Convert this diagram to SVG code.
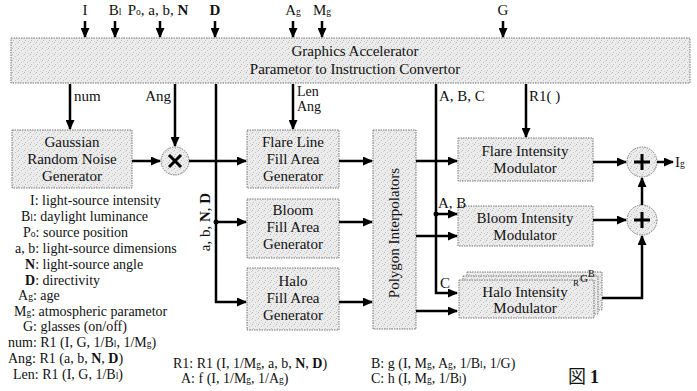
<svg xmlns="http://www.w3.org/2000/svg" width="697" height="391" viewBox="0 0 697 391">
<style>
text{font-family:"Liberation Serif","Times New Roman",serif;font-size:15px;fill:#111}
.s{font-size:14px}
.b{font-weight:bold}
.sub{font-size:9.5px}
.box{fill:url(#stip);stroke:#777;stroke-width:1;stroke-dasharray:1.5 1}
.c{fill:none;stroke:#000;stroke-width:2.5}
.a{marker-end:url(#ah)}
.sym{stroke:#000;stroke-width:3;fill:none}
</style>
<defs>
<pattern id="stip" width="6" height="6" patternUnits="userSpaceOnUse">
<rect width="6" height="6" fill="#ececec"/>
<rect x="0" y="0" width="1" height="1" fill="#b8b8b8"/>
<rect x="3" y="2" width="1" height="1" fill="#c4c4c4"/>
<rect x="1" y="4" width="1" height="1" fill="#bdbdbd"/>
<rect x="4" y="5" width="1" height="1" fill="#cfcfcf"/>
<rect x="5" y="1" width="1" height="1" fill="#d2d2d2"/>
</pattern>
<marker id="ah" markerWidth="10" markerHeight="9" refX="9" refY="4.5" orient="auto" markerUnits="userSpaceOnUse">
<path d="M0,0 L10,4.5 L0,9 z" fill="#000"/>
</marker>
</defs>

<g id="inputs">
<text x="85" y="15" text-anchor="middle">I</text>
<text x="115" y="15" text-anchor="middle">B<tspan class="sub">l</tspan></text>
<text x="158" y="15" text-anchor="middle">P<tspan class="sub">o</tspan>, a, b, <tspan class="b">N</tspan></text>
<text x="215" y="15" text-anchor="middle" class="b">D</text>
<text x="293" y="15" text-anchor="middle">A<tspan class="sub">g</tspan></text>
<text x="322" y="15" text-anchor="middle">M<tspan class="sub">g</tspan></text>
<text x="503" y="15" text-anchor="middle">G</text>
</g>

<g id="accelerator">
<rect class="box" x="11" y="38" width="679" height="45"/>
<text x="355" y="56" text-anchor="middle">Graphics Accelerator</text>
<text x="355" y="74" text-anchor="middle">Parametor to Instruction Convertor</text>
</g>

<g id="gaussian">
<rect class="box" x="12" y="130" width="120" height="58"/>
<text x="72" y="147" text-anchor="middle">Gaussian</text>
<text x="72" y="164" text-anchor="middle">Random Noise</text>
<text x="72" y="181" text-anchor="middle">Generator</text>
</g>

<g id="multiplier">
<circle cx="175" cy="161" r="14" fill="url(#stip)" stroke="#777" stroke-dasharray="1.5 1"/>
<path class="sym" d="M169,155 L181,167 M181,155 L169,167"/>
</g>

<g id="flare-gen">
<rect class="box" x="247" y="130" width="92" height="58"/>
<text x="293" y="147" text-anchor="middle">Flare Line</text>
<text x="293" y="164" text-anchor="middle">Fill Area</text>
<text x="293" y="181" text-anchor="middle">Generator</text>
</g>

<g id="bloom-gen">
<rect class="box" x="247" y="199" width="92" height="59"/>
<text x="293" y="215" text-anchor="middle">Bloom</text>
<text x="293" y="232" text-anchor="middle">Fill Area</text>
<text x="293" y="249" text-anchor="middle">Generator</text>
</g>

<g id="halo-gen">
<rect class="box" x="247" y="268" width="92" height="62"/>
<text x="293" y="286" text-anchor="middle">Halo</text>
<text x="293" y="303" text-anchor="middle">Fill Area</text>
<text x="293" y="320" text-anchor="middle">Generator</text>
</g>

<g id="polygon">
<rect class="box" x="373" y="130" width="43" height="199"/>
<text transform="translate(399,233) rotate(-90)" text-anchor="middle">Polygon Interpolators</text>
</g>

<g id="flare-mod">
<rect class="box" x="458" y="138" width="135" height="43"/>
<text x="525" y="156" text-anchor="middle">Flare Intensity</text>
<text x="525" y="173" text-anchor="middle">Modulator</text>
</g>

<g id="bloom-mod">
<rect class="box" x="458" y="206" width="135" height="40"/>
<text x="525" y="223" text-anchor="middle">Bloom Intensity</text>
<text x="525" y="240" text-anchor="middle">Modulator</text>
</g>

<g id="halo-mod">
<rect class="box" x="467" y="272" width="135" height="38"/>
<rect class="box" x="463" y="276" width="135" height="38"/>
<rect class="box" x="459" y="280" width="135" height="38"/>
<text x="525" y="297" text-anchor="middle">Halo Intensity</text>
<text x="525" y="313" text-anchor="middle">Modulator</text>
<text x="573" y="286" style="font-size:9px">R</text>
<text x="580" y="282" style="font-size:11px">G</text>
<text x="588" y="277" style="font-size:10px">B</text>
</g>

<g id="adder1">
<circle cx="642" cy="162" r="15" fill="url(#stip)" stroke="#777" stroke-dasharray="1.5 1"/>
<path class="sym" d="M642,154 V170 M634,162 H650"/>
</g>
<g id="adder2">
<circle cx="642" cy="220" r="15" fill="url(#stip)" stroke="#777" stroke-dasharray="1.5 1"/>
<path class="sym" d="M642,212 V228 M634,220 H650"/>
</g>

<g id="output">
<text x="675" y="167">I<tspan class="sub">g</tspan></text>
</g>

<g id="connectors">
<path class="c a" d="M85,21 V37"/>
<path class="c a" d="M115,21 V37"/>
<path class="c a" d="M160,21 V37"/>
<path class="c a" d="M215,21 V37"/>
<path class="c a" d="M293,21 V37"/>
<path class="c a" d="M322,21 V37"/>
<path class="c a" d="M503,21 V37"/>
<path class="c a" d="M70,84 V129"/>
<path class="c a" d="M175,84 V146"/>
<path class="c a" d="M132,161 H160"/>
<path class="c a" d="M189,161 H246"/>
<path class="c a" d="M216,84 V302 H246"/>
<path class="c a" d="M216,222 H246"/>
<circle cx="216" cy="222" r="2.5"/>
<path class="c a" d="M293,84 V129"/>
<path class="c a" d="M339,161 H372"/>
<path class="c a" d="M339,222 H372"/>
<path class="c a" d="M339,302 H372"/>
<path class="c a" d="M416,161 H457"/>
<path class="c a" d="M416,236 H457"/>
<path class="c a" d="M416,311 H457"/>
<path class="c a" d="M436,84 V293 H457"/>
<path class="c a" d="M436,214 H457"/>
<circle cx="436" cy="214" r="2.5"/>
<path class="c a" d="M526,84 V137"/>
<path class="c a" d="M593,162 H626"/>
<path class="c a" d="M657,162 H673"/>
<path class="c a" d="M593,220 H626"/>
<path class="c a" d="M642,205 V178"/>
<path class="c a" d="M602,298 H642 V236"/>
</g>

<g id="connector-labels">
<text x="74" y="101">num</text>
<text x="171" y="101" text-anchor="end">Ang</text>
<text class="s" x="297" y="96">Len</text>
<text class="s" x="297" y="111">Ang</text>
<text x="439" y="101">A, B, C</text>
<text x="529" y="101">R1( )</text>
<text x="438" y="208">A, B</text>
<text x="440" y="288">C</text>
<text transform="translate(210,222) rotate(-90)" text-anchor="middle">a, b, <tspan class="b">N</tspan>, <tspan class="b">D</tspan></text>
</g>

<g id="legend">
<text class="s" x="30" y="205">I: light-source intensity</text>
<text class="s" x="21" y="221">B<tspan class="sub">l</tspan>: daylight luminance</text>
<text class="s" x="23" y="237">P<tspan class="sub">o</tspan>: source position</text>
<text class="s" x="15" y="253">a, b: light-source dimensions</text>
<text class="s" x="25" y="269"><tspan class="b">N</tspan>: light-source angle</text>
<text class="s" x="25" y="285"><tspan class="b">D</tspan>: directivity</text>
<text class="s" x="18" y="300">A<tspan class="sub">g</tspan>: age</text>
<text class="s" x="14" y="316">M<tspan class="sub">g</tspan>: atmospheric parametor</text>
<text class="s" x="23" y="331">G: glasses (on/off)</text>
<text class="s" x="8" y="347">num: R1 (I, G, 1/B<tspan class="sub">l</tspan>, 1/M<tspan class="sub">g</tspan>)</text>
<text class="s" x="8" y="363">Ang: R1 (a, b, <tspan class="b">N</tspan>, <tspan class="b">D</tspan>)</text>
<text class="s" x="13" y="379">Len: R1 (I, G, 1/B<tspan class="sub">l</tspan>)</text>
<text class="s" x="173" y="368">R1: R1 (I, 1/M<tspan class="sub">g</tspan>, a, b, <tspan class="b">N</tspan>, <tspan class="b">D</tspan>)</text>
<text class="s" x="181" y="383">A: f (I, 1/M<tspan class="sub">g</tspan>, 1/A<tspan class="sub">g</tspan>)</text>
<text class="s" x="371" y="368">B: g (I, M<tspan class="sub">g</tspan>, A<tspan class="sub">g</tspan>, 1/B<tspan class="sub">l</tspan>, 1/G)</text>
<text class="s" x="371" y="383">C: h (I, M<tspan class="sub">g</tspan>, 1/B<tspan class="sub">l</tspan>)</text>
<text x="568" y="383" style="font-family:'Noto Sans CJK JP','Liberation Serif',serif;font-size:18px">図 <tspan style="font-family:'Liberation Serif',serif;font-weight:bold">1</tspan></text>
</g>
</svg>
